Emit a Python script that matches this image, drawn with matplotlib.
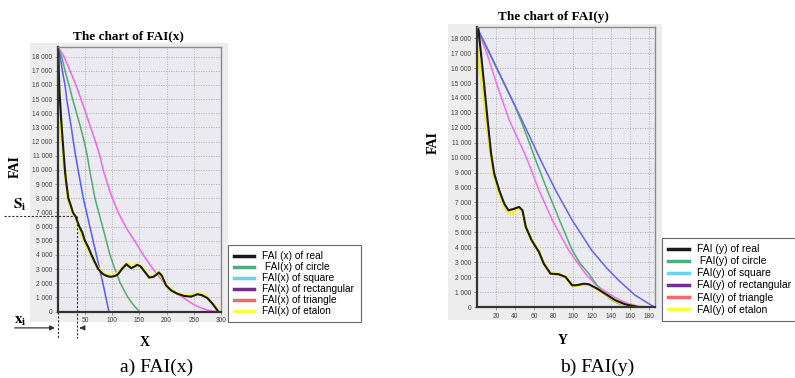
import numpy as np
import matplotlib
matplotlib.use('Agg')
import matplotlib.pyplot as plt
from matplotlib.lines import Line2D
from matplotlib.patches import Rectangle
from matplotlib.ticker import FuncFormatter

plt.rcParams['font.family'] = ['Liberation Sans', 'DejaVu Sans']
plt.rcParams['mathtext.fontset'] = 'stix'

# --- data: FAI(x) ---
x_real = [0, 1, 3, 6, 9, 13.4, 15, 19.5, 24, 28, 33, 39.6, 45, 50, 56, 62, 68, 74.4, 80, 85, 89.6, 95,
          98.8, 106, 111, 118, 126, 131, 135, 140, 146, 152, 160, 168, 176, 186, 191, 199, 208, 220,
          232, 245, 257, 265, 275, 285, 295]
fai_real_x = [18700, 18400, 15700, 13800, 12160, 9930, 9340, 8000, 7500, 6990, 6700, 6000, 5600, 5000,
              4550, 4000, 3500, 3000, 2750, 2600, 2520, 2460, 2450, 2520, 2640, 3000, 3340, 3180, 3060,
              3150, 3290, 3200, 2800, 2400, 2450, 2750, 2550, 1850, 1500, 1250, 1100, 1050, 1220, 1150,
              950, 520, 0]
x_etalon = [0, 2.5, 8, 12.5, 19, 27, 33, 38, 48, 61, 74, 88, 100, 110, 118, 127, 133, 139, 146, 160,
            168, 176, 186, 200, 216, 230, 243, 257, 265, 274, 286, 296]
fai_etalon_x = [17000, 15500, 12000, 10000, 8000, 7000, 6650, 6000, 5050, 4000, 3050, 2580, 2500, 2720,
                3050, 3420, 3230, 3200, 3380, 2850, 2420, 2480, 2800, 1820, 1300, 1150, 1100, 1280, 1200,
                1000, 520, 0]
x_circle = [0, 7.3, 13.4, 20.7, 27.4, 34.8, 42, 48.8, 54.3, 59, 68.4, 82.4, 96, 105, 115, 129, 140, 150]
fai_circle_x = [18700, 18000, 17000, 16000, 15000, 14000, 13000, 12000, 11000, 9930, 8000, 6000, 4000,
                3000, 2000, 1000, 420, 0]
x_rect = [0, 4.3, 8.5, 13.4, 16.5, 20.7, 25, 28.7, 32.9, 37.8, 47, 59, 71, 83, 94]
fai_rect_x = [18700, 18000, 17000, 16000, 15000, 14000, 13000, 12000, 11000, 9930, 8000, 6000, 4000,
              2000, 0]
x_tri = [0, 11.6, 22.6, 33.5, 42.7, 51.8, 60.4, 69.5, 77.4, 84, 97, 111, 126, 141, 158, 175, 196, 212,
         230, 245, 260, 275, 288]
fai_tri_x = [18700, 18000, 17000, 16000, 15000, 14000, 13000, 12000, 11000, 9930, 8350, 7000, 5900, 5000,
             3950, 3000, 2000, 1450, 1000, 600, 300, 100, 0]

# --- data: FAI(y) ---
y_real = [1.5, 4.5, 8, 11.4, 15, 18.3, 23.5, 28.7, 33.2, 39, 44.3, 47.8, 51.2, 57.4, 65, 70, 77, 85.8,
          92.7, 99.7, 105, 112, 117, 125.6, 134, 144.6, 155, 169]
fai_real_y = [18760, 16970, 14740, 12510, 10280, 8930, 7810, 6920, 6470, 6580, 6700, 6470, 5360, 4460,
              3680, 2900, 2230, 2190, 2010, 1450, 1470, 1560, 1520, 1230, 890, 450, 180, 0]
y_etalon = [0, 5.5, 10, 15, 18, 23, 28, 33, 37, 42, 47, 51, 57, 65, 70, 77, 86, 93, 100, 110, 117, 126,
            134, 145, 155, 170]
fai_etalon_y = [17500, 15000, 12500, 10000, 8800, 7700, 6800, 6300, 6200, 6600, 6500, 5400, 4500, 3700,
                2900, 2250, 2200, 2000, 1400, 1500, 1500, 1200, 850, 400, 150, 0]
y_circle = [0, 20, 40, 50, 61.6, 73.7, 86.5, 99.7, 108, 117, 125, 132.5, 140, 148, 160, 170]
fai_circle_y = [18760, 16100, 13450, 11850, 9820, 7810, 5800, 3790, 2900, 2230, 1500, 890, 500, 220, 50, 0]
y_rect = [0, 15, 30, 45, 55, 66.8, 82.4, 99.7, 120, 135, 148, 165, 185]
fai_rect_y = [18760, 16800, 14800, 12800, 11450, 9820, 7810, 5800, 3790, 2650, 1790, 800, 0]
y_tri = [0, 10, 21.8, 34, 50, 53, 65, 79, 96, 113.5, 125, 137.7, 148, 158.5, 170, 179]
fai_tri_y = [18760, 17100, 14740, 12510, 10280, 9820, 7810, 5800, 3790, 2230, 1450, 890, 500, 220, 50, 0]

si_value = 6750
xi_value = 35

legend_x = ['FAI (x) of real', ' FAI(x) of circle', 'FAI(x) of square', 'FAI(x) of rectangular',
            'FAI(x) of triangle', 'FAI(x) of etalon']
legend_y = ['FAI (y) of real', ' FAI(y) of circle', 'FAI(y) of square', 'FAI(y) of rectangular',
            'FAI(y) of triangle', 'FAI(y) of etalon']
legend_colors = ['#1a1a1a', '#4dae7c', '#6fd0f0', '#7a2a8c', '#f06a6a', '#ffff40']

fig = plt.figure(figsize=(7.95, 3.78), dpi=100)
W, H = 795, 378

def px(x0, y0, x1, y1):
    return [x0 / W, 1 - y1 / H, (x1 - x0) / W, (y1 - y0) / H]

# grey panels behind the plots
for (a, b, c, d) in [(30, 43, 228, 322), (448, 24, 662, 320)]:
    r = px(a, b, c, d)
    fig.patches.append(Rectangle((r[0], r[1]), r[2], r[3], transform=fig.transFigure,
                                 facecolor='#ededed', edgecolor='none', zorder=-5))

ax1 = fig.add_axes(px(57.7, 47, 221, 311.5))
ax2 = fig.add_axes(px(476.7, 27, 655, 307))

fmt = FuncFormatter(lambda v, p: f'{int(v):,}'.replace(',', ' '))

def style(ax, xmax, ymax, xticks):
    ax.set_facecolor('#eaeaf0')
    ax.set_xlim(0, xmax)
    ax.set_ylim(0, ymax)
    ax.set_xticks(xticks)
    ax.set_yticks(np.arange(0, 18001, 1000))
    ax.yaxis.set_major_formatter(fmt)
    ax.grid(True, color='#b4b4b4', linestyle=(0, (1.5, 1.5)), linewidth=0.6)
    ax.set_axisbelow(True)
    ax.tick_params(labelsize=4.8, labelcolor='#444444', length=2, width=0.5, color='#777777', pad=2)
    for s in ['left', 'bottom']:
        ax.spines[s].set_color('#333333')
        ax.spines[s].set_linewidth(1.6)
    for s in ['top', 'right']:
        ax.spines[s].set_color('#8a8a8a')
        ax.spines[s].set_linewidth(1.0)

style(ax1, 300, 18680, np.arange(50, 301, 50))
style(ax2, 186, 18750, np.arange(20, 181, 20))

# FAI(x)
ax1.plot(x_tri, fai_tri_x, color='#ee66ee', lw=1.1)
ax1.plot(x_circle, fai_circle_x, color='#55aa6a', lw=1.1)
ax1.plot(x_rect, fai_rect_x, color='#5a5af5', lw=1.1)
ax1.plot(x_etalon, fai_etalon_x, color='#f5f040', lw=2.2)
ax1.plot(x_real, fai_real_x, color='#1a1a1a', lw=1.5)

# FAI(y)
ax2.plot(y_tri, fai_tri_y, color='#ee70ee', lw=1.1)
ax2.plot(y_circle, fai_circle_y, color='#55aa72', lw=1.1)
ax2.plot(y_rect, fai_rect_y, color='#6464ee', lw=1.1)
ax2.plot(y_etalon, fai_etalon_y, color='#f5f040', lw=2.2)
ax2.plot(y_real, fai_real_y, color='#1a1a1a', lw=1.5)

# S_i / x_i construction lines
ytr = ax1.get_yaxis_transform()
xtr = ax1.get_xaxis_transform()
ax1.plot([-0.33, xi_value / 300], [si_value, si_value], transform=ytr, color='#333333',
         lw=0.8, ls=(0, (2, 1.5)), clip_on=False)
ax1.plot([xi_value, xi_value], [si_value / 18680, -0.1], transform=xtr, color='#333333',
         lw=0.8, ls=(0, (2, 1.5)), clip_on=False)
ax1.plot([0, 0], [0, -0.1], transform=xtr, color='#333333', lw=0.8, ls=(0, (2, 1.5)), clip_on=False)
ax1.annotate('', xy=(0, -0.062), xytext=(-0.28, -0.062), xycoords=xtr, textcoords=ax1.transAxes,
             arrowprops=dict(arrowstyle='-|>', color='#333333', lw=0.9, mutation_scale=7))
ax1.annotate('', xy=(xi_value, -0.062), xytext=(0.16, -0.062), xycoords=xtr, textcoords=ax1.transAxes,
             arrowprops=dict(arrowstyle='-|>', color='#333333', lw=0.9, mutation_scale=7))
ax1.text(-0.23, 7500, r'$\mathbf{S_i}$', transform=ytr, ha='center', va='center', fontsize=11)
ax1.text(-0.23, -0.035, r'$\mathbf{x_i}$', transform=ax1.transAxes, ha='center', va='center', fontsize=11)

serif = ['Liberation Serif', 'DejaVu Serif']
fig.text(128 / W, 1 - 36 / H, 'The chart of FAI(x)', ha='center', va='center', fontsize=9.5,
         fontweight='bold', family=serif)
fig.text(553 / W, 1 - 17 / H, 'The chart of FAI(y)', ha='center', va='center', fontsize=9.5,
         fontweight='bold', family=serif)
fig.text(15 / W, 1 - 167 / H, 'FAI', rotation=90, ha='center', va='center', fontsize=10,
         fontweight='bold', family=serif)
fig.text(433 / W, 1 - 143 / H, 'FAI', rotation=90, ha='center', va='center', fontsize=10,
         fontweight='bold', family=serif)
fig.text(145 / W, 1 - 342 / H, 'X', ha='center', va='center', fontsize=10, fontweight='bold', family=serif)
fig.text(563 / W, 1 - 340 / H, 'Y', ha='center', va='center', fontsize=10, fontweight='bold', family=serif)
fig.text(157 / W, 1 - 367 / H, 'a) FAI(x)', ha='center', va='center', fontsize=14, family=serif)
fig.text(597 / W, 1 - 367 / H, 'b) FAI(y)', ha='center', va='center', fontsize=14, family=serif)

handles = [Line2D([], [], color=c, lw=2.5) for c in legend_colors]
for labels, (lx, ly), fs, sp in [(legend_x, (228, 245), 7.3, 0.1), (legend_y, (662, 238), 7.5, 0.2)]:
    leg = fig.legend(handles, labels, loc='upper left', bbox_to_anchor=(lx / W, 1 - ly / H),
                     fontsize=fs, frameon=True, fancybox=False, edgecolor='#444444',
                     handlelength=2.0, handletextpad=0.8, labelspacing=sp, borderpad=0.6,
                     borderaxespad=0)
    leg.get_frame().set_linewidth(0.8)

fig.savefig('out.png', dpi=100)
